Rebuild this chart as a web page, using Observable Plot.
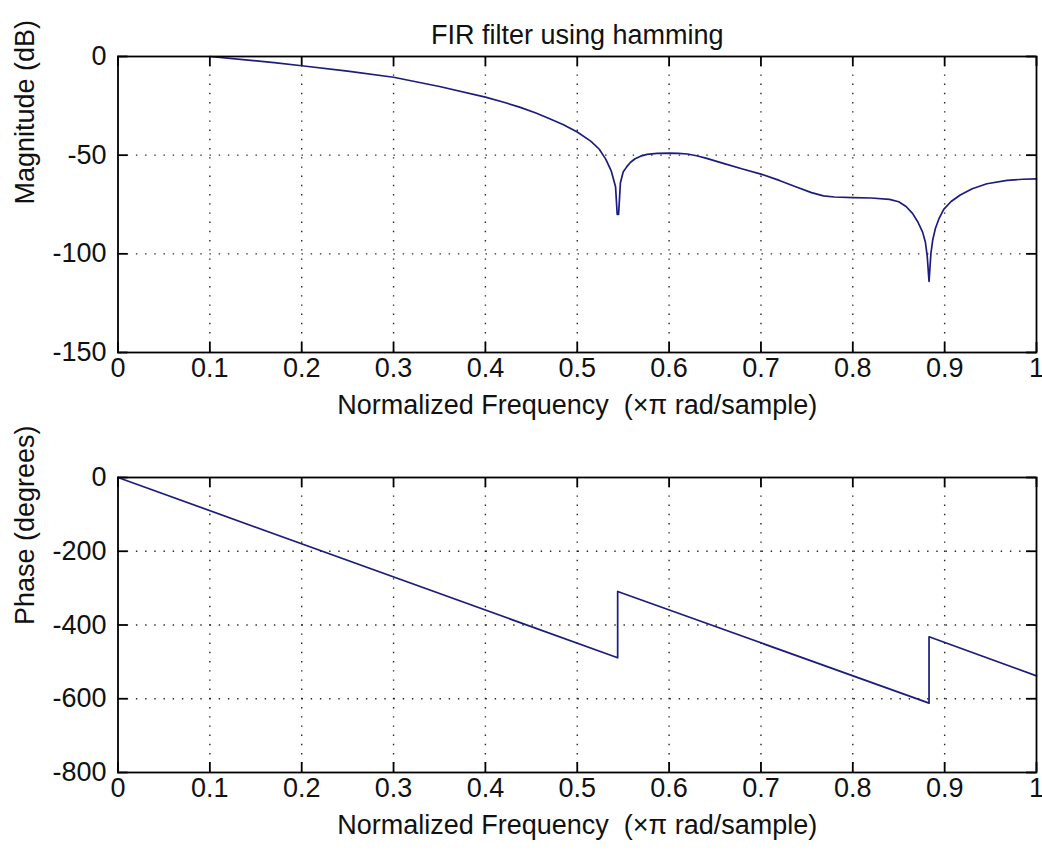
<!DOCTYPE html>
<html>
<head>
<meta charset="utf-8">
<script src="https://cdn.jsdelivr.net/npm/d3@7"></script>
<script src="https://cdn.jsdelivr.net/npm/@observablehq/plot@0.6"></script>
<style>
  html, body { margin: 0; padding: 0; background: #fff; }
  #chart svg { display: block; }
</style>
</head>
<body>
<div id="chart"></div>
<script>
// ---- data ----
const titleText = "FIR filter using hamming";
const xLabelText = "Normalized Frequency  (\u00d7\u03c0 rad/sample)";
const magLabelText = "Magnitude (dB)";
const phaseLabelText = "Phase (degrees)";

const xTicks = [0, 0.1, 0.2, 0.3, 0.4, 0.5, 0.6, 0.7, 0.8, 0.9, 1];
const xTickLabels = ["0", "0.1", "0.2", "0.3", "0.4", "0.5", "0.6", "0.7", "0.8", "0.9", "1"];
const magTicks = [0, -50, -100, -150];
const phaseTicks = [0, -200, -400, -600, -800];

const magFreq = [0.100, 0.139, 0.17, 0.2, 0.25, 0.3, 0.35, 0.4, 0.42, 0.438, 0.455, 0.47, 0.485, 0.5, 0.515, 0.524, 0.531, 0.537, 0.5417, 0.5435, 0.545, 0.547, 0.550, 0.554, 0.558, 0.563, 0.569, 0.576, 0.587, 0.6, 0.61, 0.62, 0.63, 0.64, 0.65, 0.66, 0.68, 0.7, 0.72, 0.74, 0.755, 0.768, 0.78, 0.8, 0.82, 0.84, 0.85, 0.858, 0.865, 0.871, 0.876, 0.879, 0.881, 0.883, 0.885, 0.887, 0.890, 0.894, 0.899, 0.907, 0.917, 0.93, 0.946, 0.968, 0.985, 1.0];
const magDb = [0, -1.7, -3.1, -4.7, -7.4, -10.5, -15.2, -20.6, -23.2, -25.8, -28.6, -31.5, -34.6, -38.3, -43, -47, -52, -58, -66, -80, -80, -64, -58.5, -55.8, -53.6, -51.8, -50.5, -49.6, -49.1, -49, -49.1, -49.4, -50.3, -51.5, -52.9, -54.3, -57, -59.6, -62.8, -66.4, -69, -70.6, -71.2, -71.5, -71.7, -72.4, -73.6, -76, -79.5, -84, -89, -94, -101, -114, -100, -93, -87, -82, -77.5, -73.5, -70.2, -67, -64.5, -62.8, -62.2, -62];

const phaseFreq = [0, 0.544, 0.544, 0.883, 0.883, 1.0];
const phaseDeg = [0, -489, -309, -612, -432, -538];

// ---- layout / style ----
const W = 1042;
const FONT = "Liberation Sans, Arial, Helvetica, sans-serif";
const FS = 27;
const lineColor = "#1c1c80";
const tickLen = 10;

function subplot({height, marginTop, marginBottom, yDomain, yTicks, data, yLabel, title}) {
  const frameH = height - marginTop - marginBottom;
  const frameW = W - 117.5 - 6;
  const marks = [
    Plot.gridX(xTicks.slice(1, -1), {stroke: "#000", strokeOpacity: 0.85, strokeWidth: 1.4, strokeDasharray: "1.4,7.8"}),
    Plot.gridY(yTicks.slice(1, -1), {stroke: "#000", strokeOpacity: 0.85, strokeWidth: 1.4, strokeDasharray: "1.4,7.8"}),
    // inward ticks
    Plot.tickX(xTicks, {x: d => d, insetTop: frameH - tickLen, stroke: "#000", strokeWidth: 1.8}),
    Plot.tickX(xTicks, {x: d => d, insetBottom: frameH - tickLen, stroke: "#000", strokeWidth: 1.8}),
    Plot.tickY(yTicks, {y: d => d, insetRight: frameW - tickLen, stroke: "#000", strokeWidth: 1.8}),
    Plot.tickY(yTicks, {y: d => d, insetLeft: frameW - tickLen, stroke: "#000", strokeWidth: 1.8}),
    Plot.line(data, {x: "f", y: "v", stroke: lineColor, strokeWidth: 1.7}),
    Plot.frame({stroke: "#000", strokeWidth: 1.8}),
    // tick labels
    Plot.text(xTicks, {x: d => d, frameAnchor: "bottom", dy: 24.4, text: (d, i) => xTickLabels[i], fontSize: FS, fill: "#111"}),
    Plot.text(yTicks, {y: d => d, frameAnchor: "left", textAnchor: "end", dx: -11.5, text: d => String(d), fontSize: FS, fill: "#111"}),
    // axis labels
    Plot.text([xLabelText], {frameAnchor: "bottom", dy: 61, text: d => d, fontSize: FS, fill: "#111"}),
    Plot.text([yLabel], {frameAnchor: "left", dx: -93, rotate: -90, text: d => d, fontSize: FS, fill: "#111"})
  ];
  if (title) {
    marks.push(Plot.text([title], {frameAnchor: "top", dy: -31.6, text: d => d, fontSize: FS, fill: "#111"}));
  }
  return Plot.plot({
    width: W,
    height,
    marginLeft: 117.5,
    marginRight: 6,
    marginTop,
    marginBottom,
    style: {background: "#fff", fontFamily: FONT, overflow: "visible"},
    x: {domain: [0, 1], axis: null},
    y: {domain: yDomain, axis: null},
    marks
  });
}

const magData = magFreq.map((f, i) => ({f, v: magDb[i]}));
const phaseData = phaseFreq.map((f, i) => ({f, v: phaseDeg[i]}));

const magPlot = subplot({height: 430, marginTop: 56, marginBottom: 78, yDomain: [-150, 0], yTicks: magTicks, data: magData, yLabel: magLabelText, title: titleText});
const phasePlot = subplot({height: 424, marginTop: 47, marginBottom: 82, yDomain: [-800, 0], yTicks: phaseTicks, data: phaseData, yLabel: phaseLabelText});

const host = document.getElementById("chart");
host.appendChild(magPlot);
host.appendChild(phasePlot);
</script>
</body>
</html>
